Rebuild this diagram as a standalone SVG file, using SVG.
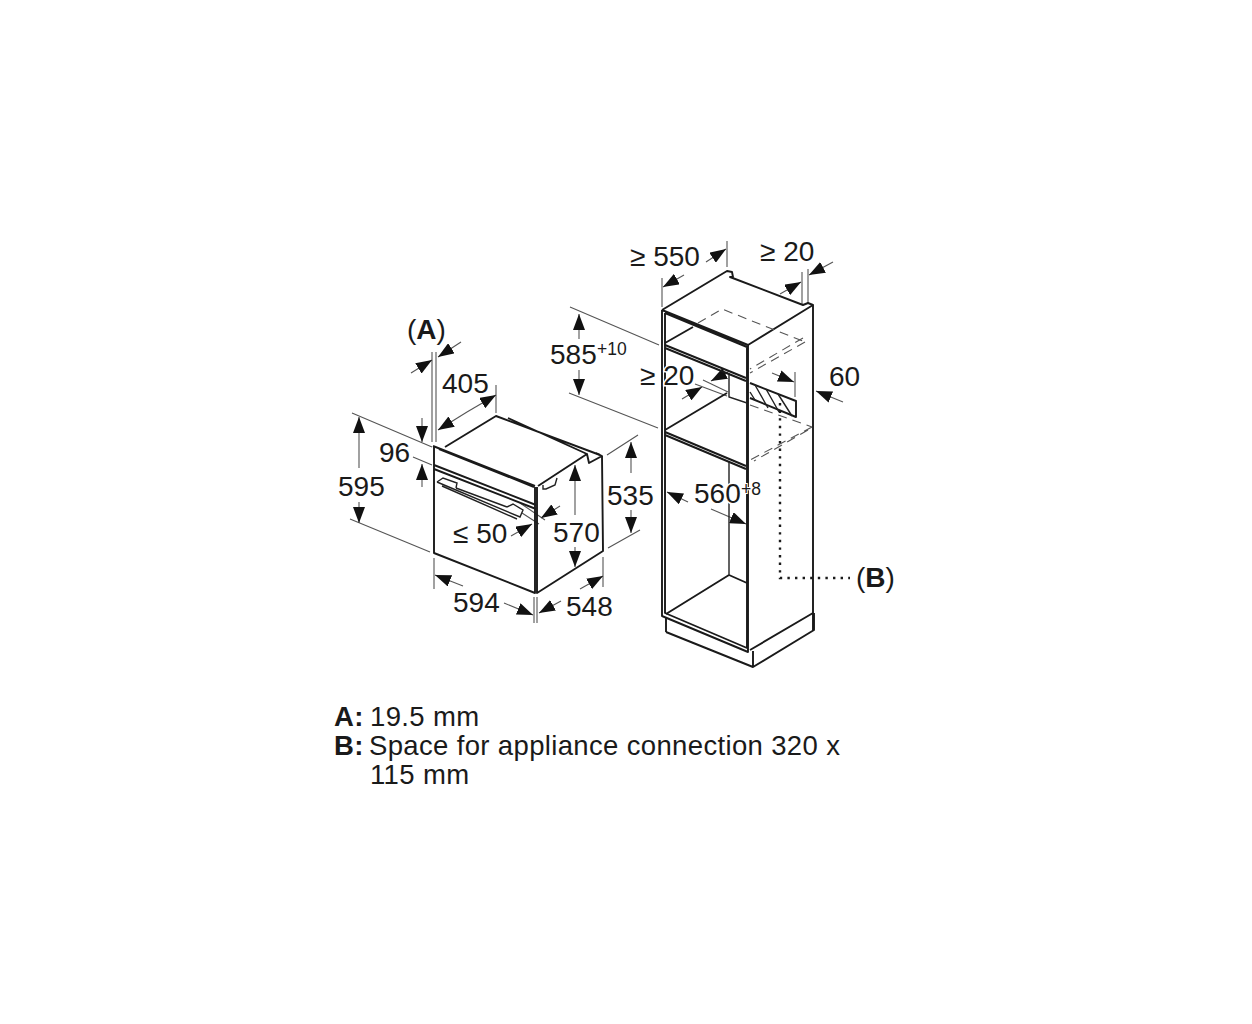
<svg xmlns="http://www.w3.org/2000/svg" width="1252" height="1024" viewBox="0 0 1252 1024">
<style>
.s{fill:none;stroke:#1a1a1a;stroke-width:1.9;stroke-linejoin:round}
.t{fill:none;stroke:#222;stroke-width:1.4}
.e{fill:none;stroke:#555;stroke-width:1.1}
.a{fill:none;stroke:#555;stroke-width:1.1;marker-end:url(#arr)}
.d{fill:none;stroke:#555;stroke-width:1.1;stroke-dasharray:9 6}
.o{fill:none;stroke:#1a1a1a;stroke-width:2.4;stroke-dasharray:2.4 5.2}
text{font-family:"Liberation Sans",Arial,sans-serif;font-size:28px;fill:#1a1a1a;paint-order:stroke;stroke:#fff;stroke-width:3px}
.b{font-weight:bold}
.u{font-size:17.5px;stroke-width:2px}
.l{font-size:27.5px;letter-spacing:.35px;stroke-width:0}
</style>
<defs>
<marker id="arr" viewBox="0 0 16 12" refX="16" refY="6" markerWidth="16" markerHeight="12" markerUnits="userSpaceOnUse" orient="auto"><path d="M16,6 L0,0 L0,12 Z" fill="#111"/></marker>
</defs>
<rect width="1252" height="1024" fill="#fff"/>

<g id="connectors">
<path class="e" d="M432,352V442M436,352V442"/>
<path class="a" d="M411,373L432,360"/><path class="a" d="M461,342L438,357"/>
<path class="e" d="M496,385V413"/>
<path class="a" d="M467,412L438,430"/><path class="a" d="M467,412L496,395"/>
<path class="e" d="M352,413L432,447M413,457L432,465M350,519L430,552"/>
<path class="a" d="M422,418V442"/><path class="a" d="M422,487V464"/>
<path class="a" d="M359,468V417"/><path class="a" d="M359,502V523"/>
<path class="e" d="M434,558V589M534,597V623M537,597V623M603,557V587"/>
<path class="a" d="M463,586L435,575"/><path class="a" d="M504,603L533,615"/>
<path class="a" d="M561,601L539,613"/><path class="a" d="M580,589L603,576"/>
<path class="e" d="M607,455L638,435M608,548L640,530"/>
<path class="a" d="M631,473V442"/><path class="a" d="M631,510V533"/>
<path class="a" d="M575,515V465"/><path class="a" d="M575,547V567"/>
<path class="e" d="M520,503L545,520M522,513L539,524"/>
<path class="a" d="M560,506L541,518"/><path class="a" d="M511,536L532,524"/>
<path class="e" d="M570,307L659,345M569,393L658,428"/>
<path class="a" d="M579,339V314"/><path class="a" d="M579,370V395"/>
<path class="e" d="M662,278V307M727,241V267M802,272V305M808,269V303"/>
<path class="a" d="M684,275L663,287"/><path class="a" d="M706,262L726,249"/>
<path class="a" d="M780,294L801,282"/><path class="a" d="M833,262L809,275"/>
<path class="e" d="M795,372V397"/>
<path class="a" d="M772,373L794,382"/><path class="a" d="M843,402L816,391"/>
<path class="e" d="M703,380L728,392M695,384L727,396"/>
<path class="a" d="M682,399L702,387"/><path class="a" d="M728,372L711,381"/>
<path class="a" d="M688,502L667,492"/><path class="a" d="M711,509L746,524"/>
<path class="o" d="M780,403V578H850"/>
</g>

<g id="oven">
<path class="s" d="M434,447V553L535,593V487M537,487V593L603,551L602,456"/>
<path class="s" d="M433,446L535,486M439,449L534,487M434,465L536,505M434,469L536,509"/>
<path class="s" d="M445,447L496,416L600,455M508,418L587,454"/>
<path class="s" d="M538,486L587,454L589,463L602,456L596,453"/>
<path class="t" d="M437,482L443,478L457,483L456,488M437,482L520,517L523,510L513,504L507,507M442,486L517,519M456,488L507,507"/>
<path class="t" d="M543,485V489L546,489L555,485L557,478"/>
</g>

<g id="cabinet">
<path class="s" d="M662,310L727,271L732,272L733,277L730,277L803,305L808,303L813,305V630"/>
<path class="s" d="M662,310V616L748,652V345L662,310M665,313V613L747,648V347L665,313M748,345L813,305"/>
<path class="s" d="M665,343L693,327M665,345L746,378M665,348L746,381M665,430L727,393M665,432L746,466M665,435L746,469"/>
<path class="t" d="M729,373V397L747,403M729,462V575"/>
<path class="s" d="M729,575L666,614M729,575L747,583"/>
<path class="s" d="M750,650L813,613M666,632V617M666,632L753,667L814,630V613M753,651V667"/>
<path class="s" d="M750,383L796,401V417L750,398"/>
<path class="t" d="M755,385L768,408M766,389L779,412M778,394L792,416M750,392L755,400"/>
<path class="d" d="M698,323L722,309L805,342"/>
<path class="d" d="M805,342L750,373M803,338L750,369"/>
<path class="d" d="M750,405L812,427M812,427L750,460M808,430L754,461"/>
</g>

<g id="labels">
<text x="407" y="339">(<tspan class="b">A</tspan>)</text>
<text x="442" y="393">405</text>
<text x="379" y="462">96</text>
<text x="338" y="496">595</text>
<text x="453" y="543">≤ 50</text>
<text x="553" y="542">570</text>
<text x="607" y="505">535</text>
<text x="453" y="612">594</text>
<text x="566" y="616">548</text>
<text x="550" y="364">585</text><text class="u" x="597" y="355">+10</text>
<text x="630" y="266">≥ 550</text>
<text x="760" y="261">≥ 20</text>
<text x="640" y="385">≥ 20</text>
<text x="829" y="386">60</text>
<text x="694" y="503">560</text><text class="u" x="741" y="495">+8</text>
<text x="856" y="587">(<tspan class="b">B</tspan>)</text>
</g>

<g id="legend">
<text class="b l" x="334" y="726">A:</text><text class="l" x="370" y="726">19.5 mm</text>
<text class="b l" x="334" y="755">B:</text><text class="l" x="369" y="755">Space for appliance connection 320 x</text>
<text class="l" x="370" y="784">115 mm</text>
</g>
</svg>
